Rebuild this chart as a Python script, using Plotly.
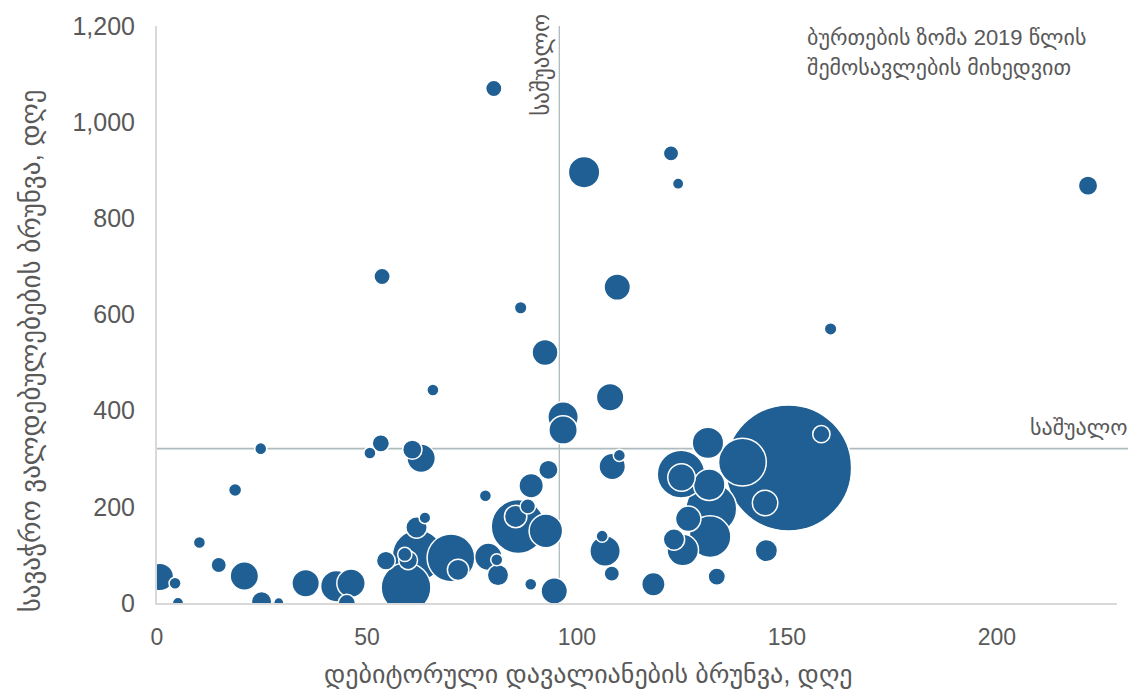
import plotly.graph_objects as go

# Debtor (receivables) turnover, days
debtor_days = [80.2, 101.7, 122.4, 124.1, 109.6, 221.7, 160.4, 53.6, 86.6, 92.4,
               65.7, 107.9, 96.7, 96.7, 18.6, 10.1, 14.7, 20.8, 0.7, 4.3,
               5.0, 24.9, 29.0, 35.4, 42.7, 46.2, 45.2, 54.5, 24.7, 50.7,
               53.3, 60.8, 62.9, 78.2, 93.2, 89.1, 88.3, 85.4, 86.0, 92.6,
               106.0, 106.7, 108.3, 89.0, 94.6, 63.8, 61.8, 59.3, 70.0, 71.7,
               62.1, 59.0, 59.8, 78.9, 80.9, 81.2, 108.4, 110.1, 118.2, 133.3,
               145.1, 131.2, 124.8, 124.9, 131.5, 139.4, 150.4, 158.2, 144.8, 131.7,
               132.0, 126.5, 125.2, 123.1]
# Trade payables turnover, days
payable_days = [1070, 896, 935, 872, 657, 868, 570, 679, 614, 521,
                443, 428, 387, 360, 235, 126, 79, 56, 54, 41,
                0, 3, 1, 41, 35, 41, 0, 88, 321, 312,
                332, 319, 301, 223, 277, 244, 201, 180, 159, 150,
                139, 108, 61, 39, 25, 177, 157, 32, 94, 69,
                99, 101, 89, 96, 90, 58, 284, 307, 39, 55,
                109, 333, 268, 261, 246, 293, 281, 351, 208, 138,
                196, 175, 110, 132]
# 2019 revenue (bubble size)
revenue_2019 = [42, 156, 37, 20, 110, 59, 25, 42, 25, 106,
                23, 119, 146, 127, 27, 23, 37, 127, 119, 23,
                20, 65, 16, 119, 156, 127, 47, 56, 23, 23,
                47, 59, 127, 23, 59, 94, 37, 79, 457, 177,
                23, 146, 37, 23, 110, 21, 72, 390, 359, 72,
                406, 32, 56, 119, 23, 72, 110, 23, 86, 47,
                79, 156, 359, 119, 156, 359, 2500, 47, 102, 273,
                406, 102, 156, 72]

mean_debtor_days = 95.8
mean_payable_days = 321

x_tickvals = [0, 50, 100, 150, 200]
y_tickvals = [0, 200, 400, 600, 800, 1000, 1200]

x_title = "დებიტორული დავალიანების ბრუნვა, დღე"
y_title = "სავაჭრო ვალდებულებების ბრუნვა, დღე"
mean_label = "საშუალო"
note_line1 = "ბურთების ზომა 2019 წლის"
note_line2 = "შემოსავლების მიხედვით"

order = sorted(range(len(revenue_2019)), key=lambda i: -revenue_2019[i])
xs = [debtor_days[i] for i in order]
ys = [payable_days[i] for i in order]
ss = [revenue_2019[i] for i in order]

max_diam = 126
sizeref = 2 * max(revenue_2019) / max_diam ** 2

FONT = "Liberation Sans, DejaVu Sans, sans-serif"
GRAY = "#595959"
BLUE = "#1F5F93"
LINECOL = "#AEBBBF"

fig = go.Figure()
fig.add_trace(go.Scatter(
    x=xs, y=ys, mode="markers",
    marker=dict(size=ss, sizemode="area", sizeref=sizeref, color=BLUE,
                line=dict(color="white", width=1.5), opacity=1),
    cliponaxis=True, showlegend=False, hoverinfo="x+y"))

fig.add_shape(type="line", xref="x", yref="y", x0=mean_debtor_days, x1=mean_debtor_days,
              y0=0, y1=1205, line=dict(color=LINECOL, width=1.3), layer="below")
fig.add_shape(type="line", xref="paper", yref="y", x0=0, x1=1.0115,
              y0=mean_payable_days, y1=mean_payable_days,
              line=dict(color=LINECOL, width=1.6), layer="below")

W, H = 1132, 692
L, R, T, B = 157, 15, 23, 89
pw, ph = W - L - R, H - T - B


def px(x):
    return (x - L) / pw


def py(y):
    return (H - B - y) / ph


ann = []
ann.append(dict(text=x_title, x=px(588), y=py(674), xref="paper", yref="paper",
                showarrow=False, xanchor="center", yanchor="middle",
                font=dict(size=26, color=GRAY, family=FONT)))
ann.append(dict(text=y_title, x=px(31), y=py(350), xref="paper", yref="paper",
                showarrow=False, xanchor="center", yanchor="middle", textangle=-90,
                font=dict(size=27, color=GRAY, family=FONT)))
ann.append(dict(text=mean_label, x=px(542), y=py(62), xref="paper", yref="paper",
                showarrow=False, xanchor="center", yanchor="middle", textangle=-90,
                font=dict(size=23, color=GRAY, family=FONT)))
ann.append(dict(text=mean_label, x=px(1129), y=py(427), xref="paper", yref="paper",
                showarrow=False, xanchor="right", yanchor="middle",
                font=dict(size=22, color=GRAY, family=FONT)))
ann.append(dict(text=note_line1, x=px(805), y=py(35), xref="paper", yref="paper",
                showarrow=False, xanchor="left", yanchor="middle",
                font=dict(size=22, color=GRAY, family=FONT)))
ann.append(dict(text=note_line2, x=px(805), y=py(65), xref="paper", yref="paper",
                showarrow=False, xanchor="left", yanchor="middle",
                font=dict(size=22, color=GRAY, family=FONT)))

fig.update_layout(
    width=W, height=H,
    margin=dict(l=L, r=R, t=T, b=B, pad=0),
    paper_bgcolor="white", plot_bgcolor="white",
    font=dict(family=FONT, color=GRAY),
    annotations=ann,
    showlegend=False,
)
fig.update_xaxes(range=[0, 228.6], tickvals=x_tickvals, showgrid=False, zeroline=False,
                 showline=True, linecolor="#D9D9D9", linewidth=2, ticks="",
                 tickfont=dict(size=23, color=GRAY, family=FONT), ticklabelstandoff=12)
fig.update_yaxes(range=[0, 1200], tickvals=y_tickvals, tickformat=",d", showgrid=False,
                 zeroline=False, showline=True, linecolor="#D9D9D9", linewidth=2, ticks="",
                 tickfont=dict(size=25, color=GRAY, family=FONT), ticklabelstandoff=15)

fig.write_html("out.html", config={"displayModeBar": False},
               post_script="document.body.style.margin='0px';")
